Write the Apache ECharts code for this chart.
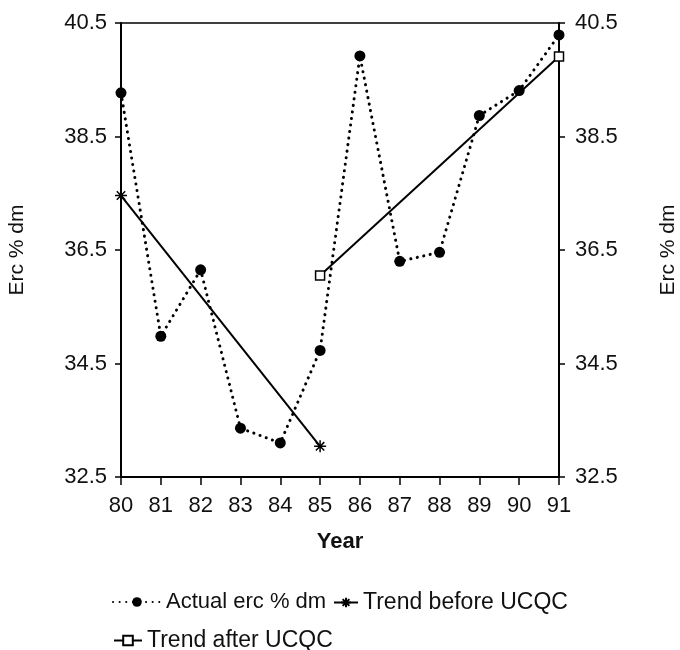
<!DOCTYPE html>
<html>
<head>
<meta charset="utf-8">
<script src="https://cdn.jsdelivr.net/npm/echarts@6/dist/echarts.min.js"></script>
<style>
  html, body { margin: 0; padding: 0; background: #fff; }
  #chart { width: 680px; height: 650px; }
</style>
</head>
<body>
<div id="chart"></div>
<script>
// Erc % dm per year, with trend lines before and after UCQC
const years = [80, 81, 82, 83, 84, 85, 86, 87, 88, 89, 90, 91];
const actualErc = [39.27, 34.98, 36.15, 33.36, 33.1, 34.73, 39.92, 36.3, 36.46, 38.87, 39.31, 40.29];
const trendBeforeYears = [80, 85];
const trendBefore = [37.46, 33.04];
const trendAfterYears = [85, 91];
const trendAfter = [36.05, 39.91];
const yTicks = [32.5, 34.5, 36.5, 38.5, 40.5];

const pairs = (xs, ys) => xs.map((x, i) => [x, ys[i]]);

const font = 'Liberation Sans, Arial, sans-serif';
const asterisk = 'path://M0,-1L0,1M-1,0L1,0M-0.7,-0.7L0.7,0.7M-0.7,0.7L0.7,-0.7';

const myChart = echarts.init(document.getElementById('chart'));

const yAxisBase = {
    type: 'value',
    min: yTicks[0],
    max: yTicks[yTicks.length - 1],
    interval: 2,
    name: 'Erc % dm',
    nameLocation: 'middle',
    nameMoveOverlap: false,
    nameTextStyle: { fontFamily: font, fontSize: 21, color: '#111' },
    axisLine: { show: true, lineStyle: { color: '#000', width: 2 } },
    axisTick: { show: true, length: 6, lineStyle: { color: '#000', width: 1.5 } },
    axisLabel: {
        fontFamily: font, fontSize: 22, color: '#111',
        formatter: v => v.toFixed(1)
    },
    splitLine: { show: false }
};

const legendText = { fontFamily: font, fontSize: 22, color: '#111' };

const option = {
    backgroundColor: '#fff',
    animation: false,
    grid: {
        left: 121, right: 121, top: 23, bottom: 173,
        outerBoundsMode: 'none',
        show: true, borderColor: '#000', borderWidth: 1.5
    },
    xAxis: {
        type: 'value',
        min: 80,
        max: 91,
        interval: 1,
        name: 'Year',
        nameLocation: 'middle',
        nameGap: 54,
        nameMoveOverlap: false,
        nameTextStyle: { fontFamily: font, fontSize: 22, fontWeight: 'bold', color: '#111' },
        axisLine: { lineStyle: { color: '#000', width: 2 } },
        axisTick: { length: 8, lineStyle: { color: '#000', width: 1.5 } },
        axisLabel: { fontFamily: font, fontSize: 22, color: '#111', margin: 18 },
        splitLine: { show: false }
    },
    yAxis: [
        Object.assign({}, yAxisBase, { position: 'left', nameGap: 93, axisLabel: Object.assign({}, yAxisBase.axisLabel, { margin: 14 }) }),
        Object.assign({}, yAxisBase, { position: 'right', nameGap: 99, nameRotate: 90, axisLabel: Object.assign({}, yAxisBase.axisLabel, { margin: 16 }) })
    ],
    legend: [
        {
            left: 112, top: 591, padding: 0, itemWidth: 48, itemHeight: 12,
            textStyle: legendText,
            data: ['Actual erc % dm']
        },
        {
            left: 333, top: 591, padding: 0, itemWidth: 24, itemHeight: 12,
            textStyle: Object.assign({}, legendText, { fontSize: 23 }),
            data: ['Trend before UCQC']
        },
        {
            left: 113, top: 629, padding: 0, itemWidth: 28, itemHeight: 12,
            textStyle: Object.assign({}, legendText, { fontSize: 23 }),
            data: ['Trend after UCQC']
        }
    ],
    series: [
        {
            name: 'Actual erc % dm',
            type: 'line',
            data: pairs(years, actualErc),
            symbol: 'circle',
            symbolSize: 11,
            itemStyle: { color: '#000' },
            lineStyle: { color: '#000', width: 3, type: [0.1, 6.5], cap: 'round' },
            z: 3
        },
        {
            name: 'Trend before UCQC',
            type: 'line',
            data: pairs(trendBeforeYears, trendBefore),
            symbol: asterisk,
            symbolSize: 12,
            itemStyle: { color: 'none', borderColor: '#000', borderWidth: 1.5 },
            lineStyle: { color: '#000', width: 2 }
        },
        {
            name: 'Trend after UCQC',
            type: 'line',
            data: pairs(trendAfterYears, trendAfter),
            symbol: 'rect',
            symbolSize: 9,
            itemStyle: { color: '#fff', borderColor: '#000', borderWidth: 1.5 },
            lineStyle: { color: '#000', width: 2 }
        }
    ]
};

option && myChart.setOption(option);
</script>
</body>
</html>
